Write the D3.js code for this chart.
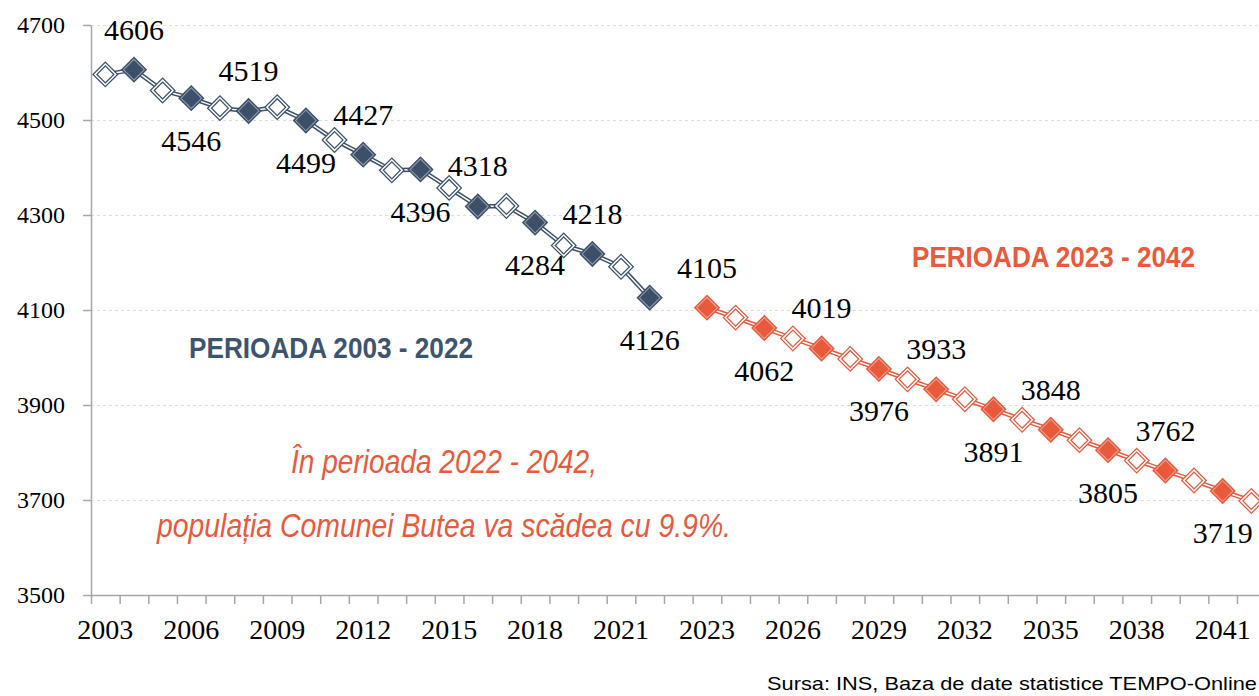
<!DOCTYPE html>
<html lang="en">
<head>
<meta charset="utf-8">
<title>Populatia Comunei Butea 2003 - 2042</title>
<script src="https://d3js.org/d3.v7.min.js"></script>
<style type="text/css">
body { margin: 0; background: #fff; }
svg { display: block; }
.axis path, .axis line { stroke: #a6a6a6; stroke-width: 1.5; }
.grid line { stroke: #dcdcdc; stroke-width: 1; stroke-dasharray: 3,3; }
.grid path { display: none; }
</style>
</head>
<body>
<script type="text/javascript">

// years and population (Comuna Butea)
const yearsPast = [2003, 2004, 2005, 2006, 2007, 2008, 2009, 2010, 2011, 2012,
                   2013, 2014, 2015, 2016, 2017, 2018, 2019, 2020, 2021, 2022];
const popPast   = [4596, 4606, 4562, 4546, 4525, 4519, 4527, 4499, 4458, 4427,
                   4394, 4396, 4357, 4318, 4319, 4284, 4236, 4218, 4191, 4126];

const yearsProj = [2023, 2024, 2025, 2026, 2027, 2028, 2029, 2030, 2031, 2032,
                   2033, 2034, 2035, 2036, 2037, 2038, 2039, 2040, 2041, 2042];
const popProj   = [4105, 4084, 4062, 4040, 4019, 3997, 3976, 3954, 3933, 3912,
                   3891, 3869, 3848, 3826, 3805, 3783, 3762, 3741, 3719, 3698];

const xTickLabels = ["2003", "2006", "2009", "2012", "2015", "2018", "2021",
                     "2023", "2026", "2029", "2032", "2035", "2038", "2041"];
const yTicks = [3500, 3700, 3900, 4100, 4300, 4500, 4700];

const width = 1259, height = 696;
const plotLeft = 91, plotTop = 25, plotBottom = 595;
const step = 28.65;
const serif = "'Liberation Serif', 'Times New Roman', serif";

const darkColor = "#3c5069";
const redColor = "#e9593c";

// one empty category between the two periods
const categories = yearsPast.map(String).concat([" "], yearsProj.map(String));

var svg = d3.select("body").append("svg")
    .attr("width", width)
    .attr("height", height);

var x = d3.scaleBand()
    .domain(categories)
    .range([plotLeft, plotLeft + categories.length * step])
    .padding(0);

var xEdges = d3.scaleLinear()
    .domain([0, categories.length])
    .range(x.range());

var y = d3.scaleLinear()
    .domain([3500, 4700])
    .range([plotBottom, plotTop]);

function cx(d) { return x(String(d.year)) + x.bandwidth() / 2; }

// gridlines
svg.append("g")
    .attr("class", "grid")
    .attr("transform", `translate(${plotLeft},0)`)
    .call(d3.axisLeft(y).tickValues(yTicks.slice(1)).tickSize(-(width - plotLeft)).tickFormat(""));

// y axis
let yAxis = svg.append("g")
    .attr("class", "axis")
    .attr("transform", `translate(${plotLeft},0)`)
    .call(d3.axisLeft(y).tickValues(yTicks).tickSize(8).tickSizeOuter(0).tickPadding(18).tickFormat(d3.format("d")));
yAxis.selectAll("text")
    .style("font-family", serif)
    .style("font-size", "24px")
    .style("fill", "#000");

// x axis: tick marks on category edges
svg.append("g")
    .attr("class", "axis")
    .attr("transform", `translate(0,${plotBottom})`)
    .call(d3.axisBottom(xEdges).tickValues(d3.range(0, categories.length + 1)).tickSize(9).tickSizeOuter(0).tickFormat(""));

// x axis labels, every third category
let xAxis = svg.append("g")
    .attr("transform", `translate(0,${plotBottom})`)
    .call(d3.axisBottom(x).tickValues(xTickLabels).tickSize(0));
xAxis.select(".domain").remove();
xAxis.selectAll("text")
    .attr("y", 44)
    .attr("dy", 0)
    .style("font-family", serif)
    .style("font-size", "28px")
    .style("fill", "#000");

function makeSeries(years, values, filledOdd) {
  return years.map(function(yr, i) {
    return { year: yr, value: values[i], filled: (i % 2 === 1) === filledOdd };
  });
}

var series = [
  { color: darkColor, points: makeSeries(yearsPast, popPast, true) },
  { color: redColor,  points: makeSeries(yearsProj, popProj, false) }
];

var line = d3.line()
    .x(cx)
    .y(function(d) { return y(d.value); });

var diamond = d3.symbol().type(d3.symbolSquare).size(215);

series.forEach(function(s) {
  // double line
  svg.append("path")
      .datum(s.points)
      .attr("d", line)
      .attr("fill", "none")
      .attr("stroke", s.color)
      .attr("stroke-width", 4.5);
  svg.append("path")
      .datum(s.points)
      .attr("d", line)
      .attr("fill", "none")
      .attr("stroke", "#fff")
      .attr("stroke-width", 1.5);

  var g = svg.append("g");
  var m = g.selectAll("g.marker")
      .data(s.points)
      .enter().append("g")
      .attr("class", "marker")
      .attr("transform", function(d) { return `translate(${cx(d)},${y(d.value)}) rotate(45)`; });

  m.append("path")
      .attr("d", diamond)
      .attr("fill", function(d) { return d.filled ? s.color : "#fff"; })
      .attr("stroke", s.color)
      .attr("stroke-width", 4);
  m.append("path")
      .attr("d", diamond)
      .attr("fill", "none")
      .attr("stroke", "#fff")
      .attr("stroke-opacity", function(d) { return d.filled ? 0.45 : 1; })
      .attr("stroke-width", function(d) { return d.filled ? 1 : 1.5; });

  // value labels on filled points, alternating above / below
  var labeled = s.points.filter(function(d) { return d.filled; });
  svg.append("g").selectAll("text")
      .data(labeled)
      .enter().append("text")
      .attr("x", cx)
      .attr("y", function(d, i) { return y(d.value) + (i % 2 === 0 ? -30 : 52.5); })
      .attr("text-anchor", "middle")
      .style("font-family", serif)
      .style("font-size", "30px")
      .style("fill", "#000")
      .text(function(d) { return d.value; });
});

// annotations
function note(txt, xPos, yPos, len, size, color, weight, styleName) {
  svg.append("text")
      .attr("x", xPos)
      .attr("y", yPos)
      .attr("textLength", len)
      .attr("lengthAdjust", "spacingAndGlyphs")
      .style("font-family", "'Liberation Sans Narrow', 'Arial Narrow', 'Liberation Sans', Arial, sans-serif")
      .style("font-size", size + "px")
      .style("font-weight", weight)
      .style("font-style", styleName)
      .style("fill", color)
      .text(txt);
}

note("PERIOADA 2003 - 2022", 189, 358, 284, 30, "#3d5470", "bold", "normal");
note("PERIOADA 2023 - 2042", 912, 267, 283, 30, redColor, "bold", "normal");
note("În perioada 2022 - 2042,", 291, 473, 306, 34, redColor, "normal", "italic");
note("populația Comunei Butea va scădea cu 9.9%.", 157, 537, 574, 34, redColor, "normal", "italic");

svg.append("text")
    .attr("x", 1257)
    .attr("y", 690)
    .attr("text-anchor", "end")
    .attr("textLength", 490)
    .attr("lengthAdjust", "spacingAndGlyphs")
    .style("font-family", "'Liberation Sans', Arial, sans-serif")
    .style("font-size", "19px")
    .style("fill", "#000")
    .text("Sursa: INS, Baza de date statistice TEMPO-Online");

</script>
</body>
</html>
